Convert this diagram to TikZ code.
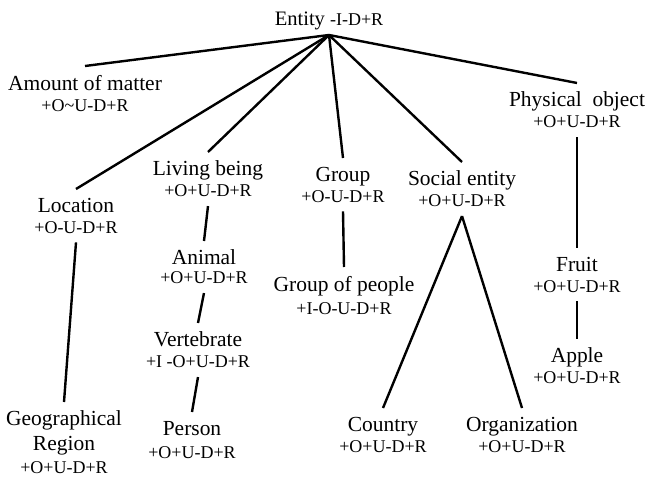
\documentclass[tikz,border=0pt]{standalone}
\usepackage{fontspec}
\setmainfont{Liberation Serif}
\usepackage{tikz}

\newcommand{\sublbl}{\fontsize{13.5}{15.75}\selectfont}

\tikzset{
  concept/.style={align=center, inner xsep=1pt, inner ysep=6.75pt, outer sep=0pt,
    anchor=north, font=\fontsize{16.1}{15.75}\selectfont},
  link/.style={line width=1.8pt},
}

\begin{document}
\begin{tikzpicture}[x=0.75pt,y=0.75pt,yscale=-1]
\useasboundingbox (0,0) rectangle (648,477);

% Text Node
\node[concept, anchor=south, inner ysep=4pt, font=\fontsize{15.4}{15.75}\selectfont] (ent) at (329,35) {Entity {\sublbl -I-D+R}};

% Text Node
\node[concept] (amt) at (85,66) {Amount of matter\\{\sublbl +O\textasciitilde U-D+R}};
% Text Node
\node[concept] (loc) at (76,189) {Location\\{\sublbl +O-U-D+R}};
% Text Node
\node[concept] (liv) at (208,152) {Living being\\{\sublbl +O+U-D+R}};
% Text Node
\node[concept] (grp) at (343,158) {Group\\{\sublbl +O-U-D+R}};
% Text Node
\node[concept] (soc) at (462,162) {Social entity\\{\sublbl +O+U-D+R}};
% Text Node
\node[concept] (phy) at (577,83) {Physical\ \ object\\{\sublbl +O+U-D+R}};

% Text Node
\node[concept] (geo) at (64,402) {Geographical\\[3pt]Region\\[1pt]{\sublbl +O+U-D+R}};
% Text Node
\node[concept] (ani) at (204,241) {Animal\\[-1.5pt]{\sublbl +O+U-D+R}};
% Text Node
\node[concept] (ver) at (198,323) {Vertebrate\\{\sublbl +I -O+U-D+R}};
% Text Node
\node[concept] (per) at (192,412) {Person\\[1.5pt]{\sublbl +O+U-D+R}};
% Text Node
\node[concept] (gpp) at (344,267) {Group of people\\[1.5pt]{\sublbl +I-O-U-D+R}};
% Text Node
\node[concept] (cty) at (383,408) {Country\\{\sublbl +O+U-D+R}};
% Text Node
\node[concept] (org) at (522,408) {Organization\\{\sublbl +O+U-D+R}};
% Text Node
\node[concept] (fru) at (577,248) {Fruit\\{\sublbl +O+U-D+R}};
% Text Node
\node[concept] (app) at (577,339) {Apple\\{\sublbl +O+U-D+R}};

%Straight Lines
\draw[link] (ent.south) -- (amt.north);
\draw[link] (ent.south) -- (loc.north);
\draw[link] (ent.south) -- (liv.north);
\draw[link] (ent.south) -- (grp.north);
\draw[link] (ent.south) -- (soc.north);
\draw[link] (ent.south) -- (phy.north);

%Straight Lines
\draw[link] (loc.south) -- (geo.north);
\draw[link] (liv.south) -- (ani.north);
\draw[link] (ani.south) -- (ver.north);
\draw[link] (ver.south) -- (per.north);
\draw[link] (grp.south) -- (gpp.north);
\draw[link] (soc.south) -- (cty.north);
\draw[link] (soc.south) -- (org.north);
\draw[link] (phy.south) -- (fru.north);
\draw[link] (fru.south) -- (app.north);

\end{tikzpicture}
\end{document}
